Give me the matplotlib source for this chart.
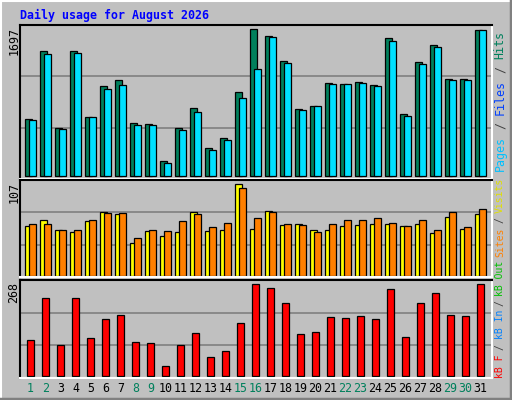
import matplotlib
matplotlib.use("Agg")
import matplotlib.pyplot as plt
from matplotlib.lines import Line2D

days = list(range(1, 32))
weekend = {1, 2, 8, 9, 15, 16, 22, 23, 29, 30}

hits = [658, 1443, 554, 1443, 681, 1039, 1108, 612, 600, 173, 554, 785, 323, 439, 969, 1697,
        1616, 1327, 773, 808, 1073, 1062, 1085, 1050, 1593, 716, 1316, 1512, 1119, 1119, 1690]
files = [646, 1408, 542, 1419, 681, 1004, 1050, 589, 589, 150, 531, 739, 300, 415, 900, 1235,
         1604, 1304, 762, 808, 1062, 1062, 1073, 1039, 1558, 692, 1292, 1489, 1108, 1108, 1685]
visits = [58, 65, 53, 51, 64, 74, 72, 38, 52, 46, 51, 75, 52, 54, 107, 55,
          76, 59, 61, 53, 53, 58, 59, 60, 61, 58, 61, 50, 69, 55, 72]
sites = [60, 61, 53, 53, 65, 73, 73, 44, 53, 52, 64, 72, 57, 62, 102, 67,
         75, 60, 59, 51, 61, 65, 65, 68, 62, 58, 65, 53, 74, 57, 78]
kbytes = [104, 227, 89, 227, 110, 165, 177, 98, 95, 28, 89, 124, 54, 72, 154, 268,
          256, 212, 121, 127, 171, 168, 174, 165, 253, 113, 212, 242, 177, 174, 268]

W, H = 512, 400
BG = "#C0C0C0"
MONO = "DejaVu Sans Mono"

fig = plt.figure(figsize=(W / 100, H / 100), dpi=100, facecolor=BG)

# outer 3D border
ov = fig.add_axes([0, 0, 1, 1], facecolor="none")
ov.set_xlim(0, W); ov.set_ylim(H, 0); ov.axis("off")
ov.add_line(Line2D([0.5, W - 0.5], [0.5, 0.5], color="white", lw=1.5))
ov.add_line(Line2D([0.5, 0.5], [0.5, H - 0.5], color="white", lw=1.5))
ov.add_line(Line2D([1, W - 1], [H - 1, H - 1], color="#808080", lw=2.5))
ov.add_line(Line2D([W - 1, W - 1], [1, H - 1], color="#808080", lw=2.5))


def panel(top, bottom, base, maxy, vmax):
    # pixel coords -> axes; y scale chosen so vmax sits at pixel maxy, zero at base
    x0, x1 = 20, 492
    ax = fig.add_axes([x0 / W, 1 - bottom / H, (x1 - x0) / W, (bottom - top) / H], facecolor=BG)
    k = vmax / (base - maxy)
    ax.set_ylim(-(bottom - base) * k, (base - top) * k)
    ax.set_xlim(x0, x1)
    ax.set_xticks([]); ax.set_yticks([])
    for fr in (1 / 3, 2 / 3):
        ax.plot([0, 1], [fr, fr], transform=ax.transAxes, color="#808080", lw=1.2, zorder=0)
    ax.spines["top"].set_color("black"); ax.spines["left"].set_color("black")
    ax.spines["bottom"].set_color("white"); ax.spines["right"].set_color("white")
    for s in ax.spines.values():
        s.set_linewidth(1.5)
    return ax


xs = [25 + 15 * (d - 1) for d in days]
ew = 0.9

ax1 = panel(25, 179, 176, 29, 1697)
ax1.bar([x + 3.5 for x in xs], hits, width=7, color="#00805C", edgecolor="black", lw=ew)
ax1.bar([x + 7.5 for x in xs], files, width=7, color="#00E0FF", edgecolor="black", lw=ew)

ax2 = panel(180, 277, 276, 184, 107)
ax2.bar([x + 3.5 for x in xs], visits, width=7, color="#FFFF00", edgecolor="black", lw=ew)
ax2.bar([x + 7.5 for x in xs], sites, width=7, color="#FF8000", edgecolor="black", lw=ew)

ax3 = panel(280, 378, 375.7, 284.3, 268)
ax3.bar([x + 5.5 for x in xs], kbytes, width=7, color="#FF0000", edgecolor="black", lw=ew)

# title
ov.text(20, 15, "Daily usage for August 2026", color="#0000FF", family=MONO,
        fontweight="bold", fontsize=8.4, ha="left", va="center")

# left max labels
for y, s in [(27, "1697"), (182, "107"), (282, "268")]:
    ov.text(14, y, s, rotation=90, family=MONO, fontsize=8.4, ha="center", va="top")

# day labels
for d, x in zip(days, xs):
    ov.text(x + 5.5, 388, str(d), family=MONO, fontsize=8.4, ha="center", va="center",
            color="#00805C" if d in weekend else "black")


def vtext(y, pieces, step, fs):
    # colored pieces bottom-to-top, fixed step per character; spaces only advance
    for txt, col in pieces:
        n = len(txt)
        core = txt.strip()
        if core:
            lead = len(txt) - len(txt.lstrip())
            mid = y - step * (lead + len(core) / 2)
            ov.text(500, mid, core, rotation=90, family=MONO, fontsize=fs, color=col,
                    ha="center", va="center")
        y -= step * n


vtext(171, [("Pages", "#00C0FF"), (" / ", "#404040"), ("Files", "#0040FF"),
            (" / ", "#404040"), ("Hits", "#00805C")], 7.0, 8.4)
vtext(377, [("kB F", "#FF0000"), (" / ", "#404040"), ("kB In", "#0080FF"),
            (" / ", "#404040"), ("kB Out", "#00C000"), (" ", "black"),
            ("Sites", "#FF8000"), (" / ", "#404040"), ("Visits", "#E0E000")], 5.5, 7.0)

fig.savefig("out.png", dpi=100, facecolor=BG)
